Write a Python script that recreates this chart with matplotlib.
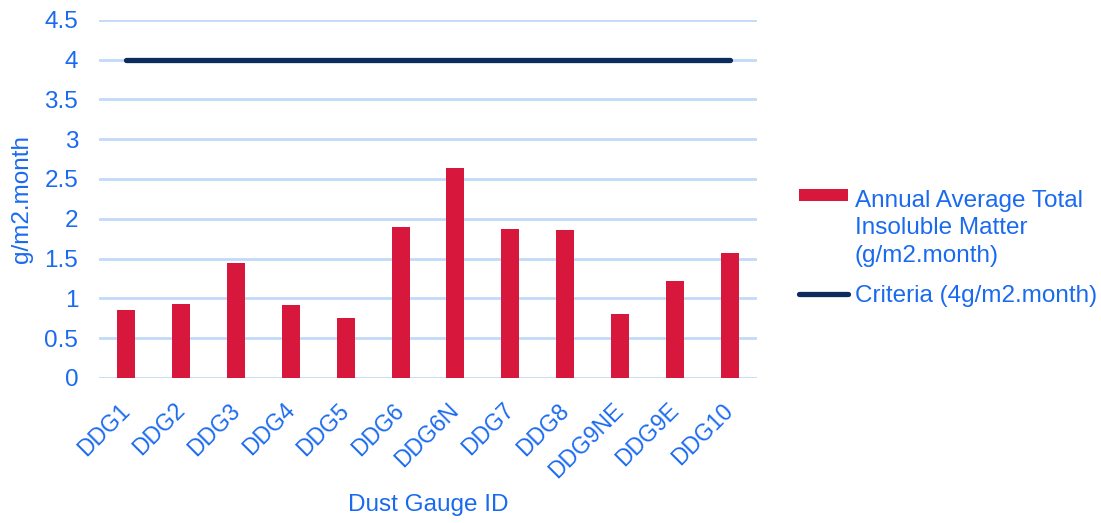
import matplotlib.pyplot as plt
import matplotlib.transforms as mtransforms

plt.rcParams['font.family'] = ['Liberation Sans', 'DejaVu Sans']

gauges = ["DDG1", "DDG2", "DDG3", "DDG4", "DDG5", "DDG6", "DDG6N",
          "DDG7", "DDG8", "DDG9NE", "DDG9E", "DDG10"]
insoluble = [0.85, 0.93, 1.45, 0.915, 0.75, 1.90, 2.64, 1.87, 1.855, 0.80, 1.215, 1.565]
criteria = [4] * len(gauges)
yticks = [0, 0.5, 1, 1.5, 2, 2.5, 3, 3.5, 4, 4.5]
ytick_labels = ["0", "0.5", "1", "1.5", "2", "2.5", "3", "3.5", "4", "4.5"]

blue = "#1a6af0"
fs = 17.5
fig = plt.figure(figsize=(11.01, 5.23), dpi=100)
ax = fig.add_axes([99 / 1101, 1 - 378 / 523, 658 / 1101, (378 - 19.7) / 523])

x = range(len(gauges))
bars = ax.bar(x, insoluble, width=0.33, color="#d7173b", zorder=3,
              label="Annual Average Total\nInsoluble Matter\n(g/m2.month)")
line, = ax.plot(x, criteria, color="#0d2c5e", linewidth=3.8, solid_capstyle="round",
                zorder=4, label="Criteria (4g/m2.month)")

ax.set_xlim(-0.5, len(gauges) - 0.5)
ax.set_ylim(0, 4.5)
ax.set_yticks(yticks)
ax.set_yticklabels(ytick_labels)
ax.set_xticks(list(x))
ax.set_xticklabels(gauges, rotation=45, ha="right", rotation_mode="anchor")
ax.grid(axis="y", color="#c2d9f7", linewidth=2, zorder=0)
for s in ax.spines.values():
    s.set_visible(False)
ax.tick_params(axis="both", length=0, labelsize=fs, labelcolor=blue)
ax.tick_params(axis="x", labelsize=16.5, pad=15)
ax.tick_params(axis="y", pad=15)
shift = mtransforms.ScaledTranslation(-8 / 100, 0, fig.dpi_scale_trans)
for lbl in ax.get_xticklabels():
    lbl.set_transform(lbl.get_transform() + shift)
ax.set_ylabel("g/m2.month", fontsize=fs, color=blue, labelpad=8)
ax.set_xlabel("Dust Gauge ID", fontsize=fs, color=blue)
ax.xaxis.set_label_coords(0.5, -0.325)

leg = fig.legend([bars, line], [bars.get_label(), line.get_label()],
                 loc="upper left", bbox_to_anchor=(799 / 1101, 1 - 190 / 523),
                 frameon=False, fontsize=fs, handlelength=2.0, handletextpad=0.3,
                 labelspacing=0.75, borderaxespad=0, borderpad=0)
for t in leg.get_texts():
    t.set_color(blue)
    t.set_linespacing(1.32)
# put the bar swatch level with the first line of its label, a bit thinner
h = leg.legend_handles[0]
old_h = h.get_height()
h.set_height(8)
h.set_y(h.get_y() + fs * 1.32 + (old_h - 8) / 2 + 1)

fig.savefig("out.png", dpi=100)
